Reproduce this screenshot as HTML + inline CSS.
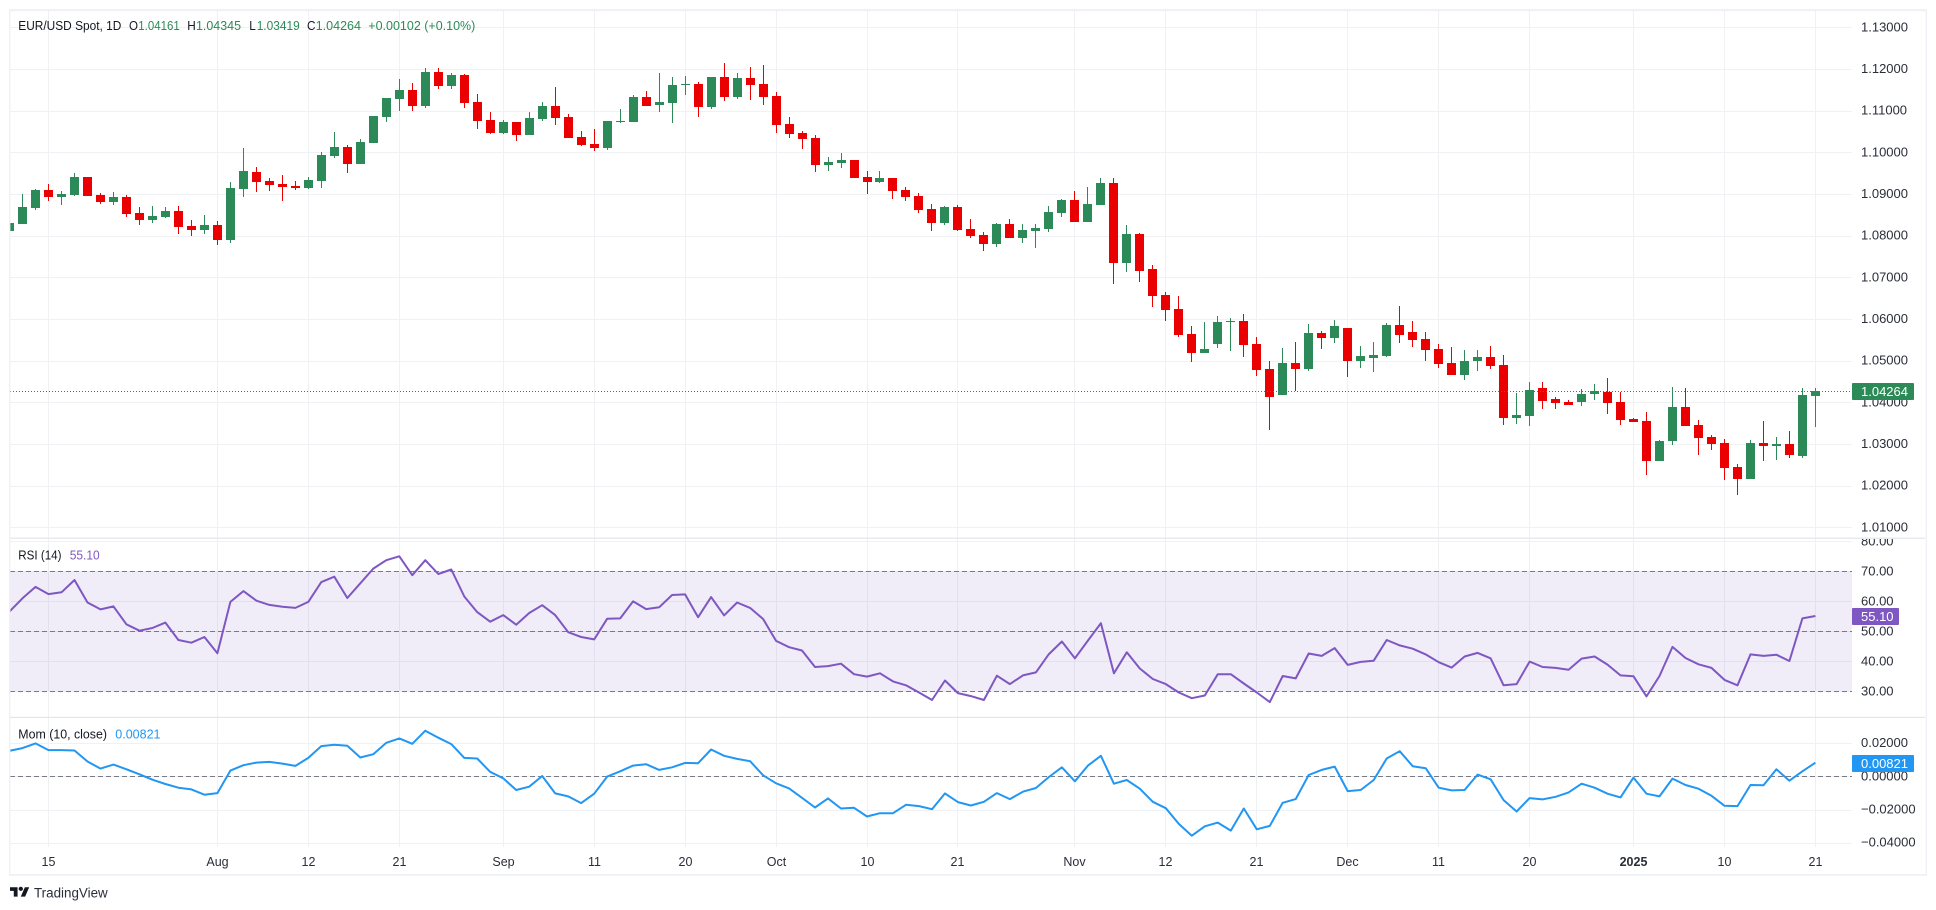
<!DOCTYPE html>
<html lang="en">
<head>
<meta charset="utf-8">
<title>EUR/USD Spot, 1D</title>
<style>
html,body{margin:0;padding:0;background:#fff;width:1936px;height:910px;overflow:hidden}
svg{display:block;font-family:"Liberation Sans",sans-serif}
</style>
</head>
<body>
<svg id="chart" xmlns="http://www.w3.org/2000/svg" width="1936" height="910" viewBox="0 0 1936 910">
  <defs>
    <clipPath id="plot-clip"><rect x="10" y="11" width="1842" height="527"/></clipPath>
    <clipPath id="rsi-clip"><rect x="10" y="539" width="1842" height="178"/></clipPath>
    <clipPath id="mom-clip"><rect x="10" y="718" width="1842" height="129"/></clipPath>
    <clipPath id="price-axis-clip"><rect x="1853" y="11" width="72" height="527"/></clipPath>
    <clipPath id="rsi-axis-clip"><rect x="1853" y="539" width="72" height="178"/></clipPath>
  </defs>
  <rect x="0" y="0" width="1936" height="910" fill="#ffffff"/>
  <g id="grid"></g>
  <rect id="rsi-band" fill="#7e57c2" fill-opacity="0.115"/>
  <g id="levels"></g>
  <g id="candles" clip-path="url(#plot-clip)"></g>
  <line id="last-line" stroke="#2b8a57" stroke-width="1" stroke-dasharray="1 2"/>
  <polyline id="rsi-line" fill="none" stroke="#7e57c2" stroke-width="2" stroke-linejoin="round" clip-path="url(#rsi-clip)"/>
  <polyline id="mom-line" fill="none" stroke="#2196f3" stroke-width="2" stroke-linejoin="round" clip-path="url(#mom-clip)"/>
  <g id="axes" font-size="13" fill="#2a2e39"></g>

  <g id="frame">
    <rect x="9" y="9" width="1918" height="2.2" fill="#eff1f6"/>
    <rect x="9" y="9" width="1.4" height="866.5" fill="#eff1f6"/>
    <rect x="1925.6" y="9" width="1.4" height="866.5" fill="#eff1f6"/>
    <rect x="9" y="874" width="1918" height="1.8" fill="#eff1f6"/>
    <rect x="10" y="537.6" width="1915" height="1.2" fill="#e3e5ec"/>
    <rect x="10" y="716.8" width="1915" height="1.2" fill="#e3e5ec"/>
  </g>

  <g id="legend" font-size="13">
    <text x="18.3" y="30" fill="#131722" textLength="103" lengthAdjust="spacingAndGlyphs">EUR/USD Spot, 1D</text>
    <text x="129" y="30" fill="#131722" textLength="9" lengthAdjust="spacingAndGlyphs">O</text>
    <text x="138.3" y="30" fill="#2b8a57" textLength="41.4" lengthAdjust="spacingAndGlyphs">1.04161</text>
    <text x="187.3" y="30" fill="#131722" textLength="8.5" lengthAdjust="spacingAndGlyphs">H</text>
    <text x="196" y="30" fill="#2b8a57" textLength="45" lengthAdjust="spacingAndGlyphs">1.04345</text>
    <text x="249.3" y="30" fill="#131722" textLength="6.5" lengthAdjust="spacingAndGlyphs">L</text>
    <text x="256.7" y="30" fill="#2b8a57" textLength="43" lengthAdjust="spacingAndGlyphs">1.03419</text>
    <text x="307" y="30" fill="#131722" textLength="8.5" lengthAdjust="spacingAndGlyphs">C</text>
    <text x="315.7" y="30" fill="#2b8a57" textLength="45.3" lengthAdjust="spacingAndGlyphs">1.04264</text>
    <text x="368.3" y="30" fill="#2b8a57" textLength="107" lengthAdjust="spacingAndGlyphs">+0.00102 (+0.10%)</text>
  </g>
  <g id="rsi-legend" font-size="13">
    <text x="18.3" y="559.4" fill="#131722" textLength="43.2" lengthAdjust="spacingAndGlyphs">RSI (14)</text>
    <text x="69.7" y="559.4" fill="#7e57c2" textLength="30" lengthAdjust="spacingAndGlyphs">55.10</text>
  </g>
  <g id="mom-legend" font-size="13">
    <text x="18.3" y="738.4" fill="#131722" textLength="88.7" lengthAdjust="spacingAndGlyphs">Mom (10, close)</text>
    <text x="115.3" y="738.4" fill="#2196f3" textLength="45.2" lengthAdjust="spacingAndGlyphs">0.00821</text>
  </g>

  <g>
    <g transform="translate(10,885.2) scale(0.54,0.52)" fill="#131722">
      <path d="M14 22H7V11H0V4h14v18zM28 22h-8l7.5-18h8L28 22z"/>
      <circle cx="20" cy="7" r="4"/>
    </g>
    <text x="34" y="897.7" font-size="13.5" fill="#2a2e39" textLength="73.7" lengthAdjust="spacingAndGlyphs">TradingView</text>
  </g>
</svg>

<script>
// ---- Chart data ----
const opens = [1.08112,1.0828,1.08664,
1.09096,1.08928,1.08976,1.09408,1.08976,1.08808,1.08928,1.08544,1.08376,1.08448,
1.08592,1.08232,1.08136,1.08256,1.07896,1.0912,1.09528,1.09312,1.0924,1.09192,
1.09144,1.09312,1.09912,1.10128,1.0972,1.10224,1.10848,1.1128,1.11496,1.11112,
1.11928,1.11592,1.11856,1.11208,1.10776,1.10464,1.10728,1.10416,1.108,1.11112,
1.10848,1.10368,1.102,1.10104,1.1072,1.10728,1.11328,1.11136,1.11184,1.11616,
1.1164,1.11088,1.11808,1.11328,1.11784,1.1164,1.11352,1.1068,1.10464,1.10344,
1.09696,1.09744,1.09816,1.09408,1.09288,1.09384,1.09096,1.08952,1.0864,1.08304,
1.08688,1.0816,1.08016,1.078,1.0828,1.07944,1.08112,1.0816,1.08544,1.08856,
1.08328,1.08736,1.09264,1.07344,1.0804,1.072,1.06576,1.0624,1.0564,1.05184,
1.054,1.05928,1.05952,1.054,1.048,1.04176,1.04944,1.048,1.05664,1.05544,
1.05784,1.04992,1.05064,1.05112,1.05856,1.05688,1.0552,1.0528,1.04944,1.04656,
1.04992,1.05088,1.04896,1.03624,1.03672,1.04344,1.0408,1.04008,1.04008,1.042,
1.04248,1.04008,1.036,1.03552,1.02592,1.03072,1.03888,1.03456,1.03168,1.03024,
1.02448,1.0216,1.03024,1.02952,1.03,1.02712,1.04161];
const highs = [1.08304,1.09,1.0912,
1.0924,1.09072,1.09504,1.09408,1.09024,1.09048,1.08976,1.08688,1.08712,1.08688,
1.08712,1.08376,1.08496,1.08352,1.09288,1.10104,1.09648,1.09384,1.09456,1.09312,
1.09408,1.10008,1.10488,1.10176,1.1032,1.10872,1.11304,1.1176,1.11664,1.12024,
1.12024,1.11904,1.1188,1.114,1.10968,1.10776,1.10728,1.10968,1.11208,1.11568,
1.1092,1.10512,1.1056,1.10752,1.1104,1.11376,1.11472,1.11904,1.11808,1.11832,
1.11688,1.11808,1.12144,1.11904,1.12048,1.12096,1.11448,1.10848,1.10512,1.10416,
1.09888,1.09984,1.09816,1.09552,1.09552,1.09384,1.09168,1.09024,1.0876,1.08712,
1.08736,1.084,1.08088,1.08304,1.084,1.0828,1.0828,1.08712,1.0888,1.09072,
1.09168,1.09384,1.09384,1.08256,1.08064,1.07296,1.06648,1.06552,1.05832,1.05928,
1.06072,1.06024,1.0612,1.05568,1.04992,1.05304,1.05448,1.0588,1.05712,1.05976,
1.05784,1.05352,1.05448,1.05904,1.06312,1.05952,1.05688,1.054,1.05328,1.05256,
1.05256,1.05352,1.05136,1.04224,1.04488,1.04488,1.04128,1.04056,1.0432,1.0444,
1.04584,1.04248,1.03624,1.03768,1.03096,1.04368,1.04344,1.03576,1.03216,1.0312,
1.0252,1.03096,1.03552,1.03168,1.03312,1.04344,1.04345];
const lows = [1.08112,1.0828,1.08616,
1.08832,1.08736,1.08952,1.08952,1.0876,1.08736,1.08448,1.08256,1.08304,1.08424,
1.0804,1.07992,1.0804,1.07776,1.07824,1.08928,1.09048,1.09072,1.08832,1.09096,
1.0912,1.09144,1.09864,1.09504,1.0972,1.10224,1.10728,1.10992,1.10992,1.11064,
1.1152,1.1152,1.11064,1.1056,1.1044,1.1044,1.10272,1.10416,1.10752,1.10656,
1.10344,1.10152,1.10032,1.10056,1.10704,1.10728,1.11112,1.10968,1.10704,1.11376,
1.10848,1.1104,1.11232,1.1128,1.11256,1.11136,1.10464,1.10344,1.1008,1.09528,
1.09552,1.09624,1.09384,1.09,1.09264,1.0888,1.08832,1.08544,1.08112,1.08256,
1.08112,1.07944,1.07632,1.07728,1.07944,1.07824,1.07704,1.08088,1.08448,1.08328,
1.08328,1.08736,1.0684,1.07128,1.06888,1.06288,1.05952,1.05568,1.04968,1.05184,
1.05304,1.05232,1.05088,1.04632,1.03336,1.04176,1.04272,1.04752,1.0528,1.05424,
1.04608,1.04824,1.04728,1.05088,1.05424,1.05328,1.04992,1.04824,1.04656,1.04536,
1.04752,1.048,1.03456,1.0348,1.03432,1.0384,1.0384,1.03936,1.03912,1.04056,
1.0372,1.03456,1.03528,1.02256,1.02592,1.02976,1.03432,1.02736,1.02856,1.02136,
1.01776,1.0216,1.02592,1.02616,1.02664,1.02664,1.03419];
const closes = [1.08304,1.08688,1.09096,
1.08928,1.09,1.09408,1.08952,1.08808,1.08928,1.0852,1.08376,1.08472,1.08592,
1.08208,1.08136,1.08256,1.07896,1.09144,1.09552,1.09288,1.09216,1.09168,1.09144,
1.09336,1.09936,1.10128,1.0972,1.10248,1.10872,1.11304,1.11496,1.11112,1.11928,
1.11592,1.11856,1.11184,1.10752,1.10464,1.10728,1.10416,1.10824,1.11112,1.10824,
1.10344,1.10176,1.10104,1.10752,1.10752,1.11328,1.11112,1.11208,1.11616,1.1164,
1.11088,1.11808,1.11328,1.11784,1.11616,1.11328,1.10656,1.1044,1.1032,1.09696,
1.09768,1.09816,1.09384,1.09288,1.09384,1.09072,1.08928,1.08616,1.08304,1.08688,
1.08136,1.07992,1.078,1.0828,1.07944,1.08136,1.08184,1.08568,1.08856,1.08328,
1.0876,1.09264,1.07344,1.0804,1.07152,1.06552,1.06216,1.05616,1.05184,1.0528,
1.05928,1.05952,1.05376,1.04776,1.04128,1.04944,1.048,1.05664,1.05544,1.05832,
1.04992,1.05112,1.05136,1.05856,1.05616,1.05496,1.05256,1.0492,1.04656,1.04992,
1.05088,1.04872,1.03624,1.03696,1.04296,1.04032,1.03984,1.03936,1.042,1.04272,
1.03984,1.03576,1.03528,1.02592,1.03072,1.03888,1.03432,1.03144,1.03,1.02424,
1.0216,1.03024,1.02952,1.03,1.02736,1.04176,1.04264];
const rsiValues = [56.6,61,64.8,
62.4,63,67.1,59.6,57.3,58.3,52.3,50.2,51.1,52.9,
47.1,46.2,48.1,42.7,59.8,63.4,60.2,58.8,58.2,57.8,
59.8,66.4,68.2,61.1,66,70.9,73.7,75,68.7,73.7,
69.1,70.6,61.6,56.4,53.2,55.4,52.2,56.1,58.7,55.4,
49.7,48.1,47.3,54.2,54.3,60,57.4,58,62.1,62.3,
54.7,61.4,55.3,59.6,57.8,54.1,46.8,44.7,43.6,38.1,
38.4,39.2,35.7,34.9,36,33.3,32,29.6,27.1,33.6,
29.4,28.4,27.1,35.2,32.4,35.3,36.3,42.4,46.6,41,
46.9,52.7,36,43,37.6,34.1,32.4,29.6,27.7,28.6,
35.7,35.7,32.6,29.6,26.4,35.1,34.3,42.6,41.8,44.4,
38.8,39.8,40.2,47.1,45.3,44.2,42.3,39.7,37.9,41.6,
42.8,41,32,32.4,39.9,38.1,37.8,37.2,40.9,41.6,
38.9,35.3,35,28.3,35.1,44.8,41.1,39,37.8,33.8,
32,42.3,41.8,42.2,40.1,54.3,55.1];
const momValues = [0.01535,0.01697,0.0198,
0.01576,0.01576,0.01556,0.00889,0.00465,0.00707,0.00424,0.00121,-0.00202,-0.00465,
-0.00687,-0.00788,-0.01111,-0.0101,0.00343,0.00667,0.00828,0.00869,0.00768,0.00626,
0.01111,0.01818,0.01899,0.01838,0.01131,0.01333,0.0202,0.02283,0.0196,0.02747,
0.02323,0.01939,0.01111,0.01071,0.00263,-0.00121,-0.00828,-0.00626,0.0002,-0.0103,
-0.01212,-0.01616,-0.0105,-0.0002,0.00303,0.00646,0.00727,0.00384,0.00545,0.00808,
0.00788,0.01616,0.01232,0.0105,0.00909,0.00061,-0.00424,-0.00727,-0.01293,-0.01879,
-0.01333,-0.01939,-0.01899,-0.02424,-0.02222,-0.02222,-0.01717,-0.01798,-0.0198,-0.0103,
-0.01556,-0.01758,-0.01535,-0.0101,-0.01374,-0.00929,-0.00707,-0.0004,0.00545,-0.00303,
0.00646,0.01232,-0.00444,-0.00222,-0.00747,-0.01535,-0.01919,-0.02869,-0.03576,-0.0301,
-0.02788,-0.03273,-0.01939,-0.03192,-0.0299,-0.01596,-0.01374,0.00081,0.00384,0.00586,
-0.00889,-0.00828,-0.00222,0.01071,0.01515,0.00606,0.00485,-0.00687,-0.00848,-0.00828,
0.00101,-0.00182,-0.01434,-0.02121,-0.01313,-0.01394,-0.01232,-0.0097,-0.00444,-0.00687,
-0.0105,-0.01273,-0.00081,-0.0105,-0.01212,-0.00141,-0.00525,-0.00747,-0.01172,-0.01778,
-0.01798,-0.00525,-0.00545,0.00424,-0.00263,0.00303,0.00821];

const priceTicks = [1.13,1.12,1.11,1.1,1.09,1.08,1.07,1.06,1.05,1.04,1.03,1.02,1.01];
const priceTickLabels = ["1.13000","1.12000","1.11000","1.10000","1.09000","1.08000","1.07000","1.06000","1.05000","1.04000","1.03000","1.02000","1.01000"];
const rsiTicks = [80,70,60,50,40,30];
const rsiTickLabels = ["80.00","70.00","60.00","50.00","40.00","30.00"];
const rsiLevels = [70,50,30];
const momTicks = [0.02,0,-0.02,-0.04];
const momTickLabels = ["0.02000","0.00000","\u22120.02000","\u22120.04000"];
const momLevels = [0];
const timeTickBars = [3,16,23,30,38,45,52,59,66,73,82,89,96,103,110,117,125,132,139];
const timeTickLabels = ["15","Aug","12","21","Sep","11","20","Oct","10","21","Nov","12","21","Dec","11","20","2025","10","21"];
const lastPrice = 1.04264;
const lastPriceLabel = "1.04264";
const lastRsi = 55.10;
const lastRsiLabel = "55.10";
const lastMom = 0.00821;
const lastMomLabel = "0.00821";

// ---- Axis functions ----
function xBar(i){ return 9.53 + 12.992 * i; }
function snapX(v){ return Math.round(v - 0.5) + 0.5; }
function yPrice(p){ return 27.33 + (1.13 - p) * 4166.7; }
function yRsi(r){ return 571.3 + (70 - r) * 3; }
function yMom(m){ return 776.3 - m * 1660; }

const SVG_NS = 'http://www.w3.org/2000/svg';
function make(tag, parent, attrs){
  const el = document.createElementNS(SVG_NS, tag);
  for (const k in attrs) el.setAttribute(k, attrs[k]);
  parent.appendChild(el);
  return el;
}

const gridG = document.getElementById('grid');
const levelsG = document.getElementById('levels');
const candlesG = document.getElementById('candles');
const axesG = document.getElementById('axes');
const GRID = '#f0f1f4';

// ---- Gridlines ----
priceTicks.forEach(function(t){
  const y = Math.round(yPrice(t)) + 0.5;
  const l = make('line', gridG, {x1:10, x2:1852, y1:y, y2:y, stroke:GRID, 'stroke-width':1});
  
  
});
rsiTicks.forEach(function(t){
  const y = Math.round(yRsi(t)) + 0.5;
  const l = make('line', gridG, {x1:10, x2:1852, y1:y, y2:y, stroke:GRID, 'stroke-width':1});
  
  
});
momTicks.forEach(function(t){
  const y = Math.round(yMom(t)) + 0.5;
  const l = make('line', gridG, {x1:10, x2:1852, y1:y, y2:y, stroke:GRID, 'stroke-width':1});
  
  
});
timeTickBars.forEach(function(b){
  const x = snapX(xBar(b));
  const l = make('line', gridG, {x1:x, x2:x, y1:11, y2:847, stroke:GRID, 'stroke-width':1});
  
  
});

// ---- RSI band and levels ----
const band = document.getElementById('rsi-band');
band.setAttribute('x', 10);
band.setAttribute('width', 1842);
band.setAttribute('y', yRsi(70));
band.setAttribute('height', yRsi(30) - yRsi(70));
rsiLevels.forEach(function(t){
  const y = Math.round(yRsi(t)) + 0.5;
  const l = make('line', levelsG, {x1:10, x2:1852, y1:y, y2:y, stroke:'#787b86', 'stroke-width':1, 'stroke-dasharray':'5 3'});
  
  
});
momLevels.forEach(function(t){
  const y = Math.round(yMom(t)) + 0.5;
  const l = make('line', levelsG, {x1:10, x2:1852, y1:y, y2:y, stroke:'#787b86', 'stroke-width':1, 'stroke-dasharray':'5 3'});
  
  
});

// ---- Candles ----
opens.forEach(function(o, i){
  const c = closes[i];
  const color = c >= o ? '#2b8a57' : '#ea0000';
  const cx = snapX(xBar(i));
  const top = Math.round(yPrice(Math.max(o, c)));
  const bot = Math.round(yPrice(Math.min(o, c)));
  const wickTop = Math.round(yPrice(highs[i]));
  const wickBot = Math.round(yPrice(lows[i]));
  const wick = make('rect', candlesG, {x:cx - 0.5, y:wickTop, width:1, height:Math.max(1, wickBot - wickTop), fill:color});
  
  
  const body = make('rect', candlesG, {x:cx - 4.5, y:top, width:9, height:Math.max(1, bot - top), fill:color});
  
  
});

// ---- Lines ----
document.getElementById('rsi-line').setAttribute('points', rsiValues.map(function(v, i){ return xBar(i).toFixed(1) + ',' + yRsi(v).toFixed(1); }).join(' '));
document.getElementById('mom-line').setAttribute('points', momValues.map(function(v, i){ return xBar(i).toFixed(1) + ',' + yMom(v).toFixed(1); }).join(' '));
const lastLine = document.getElementById('last-line');
lastLine.setAttribute('x1', 10);
lastLine.setAttribute('x2', 1852);
lastLine.setAttribute('y1', Math.round(yPrice(lastPrice)) + 0.5);
lastLine.setAttribute('y2', Math.round(yPrice(lastPrice)) + 0.5);

// ---- Axis labels ----
const priceAxisG = make('g', axesG, {'clip-path':'url(#price-axis-clip)'});


priceTicks.forEach(function(t, i){
  const tx = make('text', priceAxisG, {x:1861, y:yPrice(t) + 4});
  
  
  tx.textContent = priceTickLabels[i];
});
const rsiAxisG = make('g', axesG, {'clip-path':'url(#rsi-axis-clip)'});


rsiTicks.forEach(function(t, i){
  const tx = make('text', rsiAxisG, {x:1861, y:yRsi(t) + 4});
  
  
  tx.textContent = rsiTickLabels[i];
});
const momAxisG = make('g', axesG, {});


momTicks.forEach(function(t, i){
  const tx = make('text', momAxisG, {x:1861, y:yMom(t) + 4});
  
  
  tx.textContent = momTickLabels[i];
});
const timeAxisG = make('g', axesG, {});


timeTickBars.forEach(function(b, i){
  const attrs = {x:snapX(xBar(b)), y:866.2, 'text-anchor':'middle', 'font-size':12.5};
  if (timeTickLabels[i].length === 4) attrs['font-weight'] = 'bold';
  const tx = make('text', timeAxisG, attrs);
  
  
  tx.textContent = timeTickLabels[i];
});

// ---- Last value tags ----
function tag(yc, w, color, label){
  const top = Math.round(yc + 0.5 - 8.5);
  const r = make('rect', axesG, {x:1852, y:top, width:w, height:17, rx:1, fill:color});
  
  
  const tx = make('text', axesG, {x:1861, y:top + 13, fill:'#ffffff'});
  
  
  tx.textContent = label;
}
tag(yPrice(lastPrice), 62, '#2b8a57', lastPriceLabel);
tag(yRsi(lastRsi), 47, '#7e57c2', lastRsiLabel);
tag(yMom(lastMom), 62, '#2196f3', lastMomLabel);
</script>
</body>
</html>
